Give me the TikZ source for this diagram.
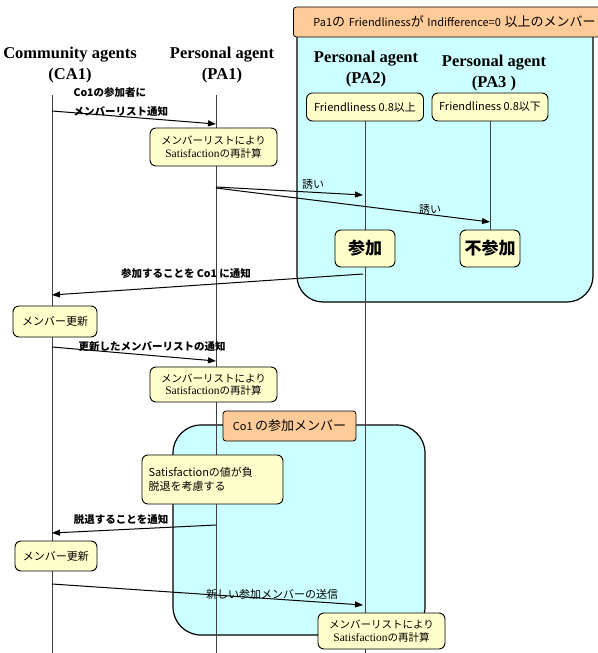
\documentclass[tikz,border=0pt]{standalone}
\usepackage{fontspec}
\setmainfont{Liberation Serif}
\newfontfamily\jpfont{Noto Sans CJK JP}
\usetikzlibrary{arrows.meta,positioning}
\definecolor{groupcyan}{HTML}{CCFFFF}
\definecolor{tagorange}{HTML}{FFCC99}
\definecolor{memoyellow}{HTML}{FFFFCC}
\newcommand{\widejp}[1]{{\fontsize{13}{13}\selectfont #1}}

\begin{document}
\begin{tikzpicture}[x=1pt, y=-1pt, >={Triangle[length=8pt,width=6pt]},
	every node/.style={font=\jpfont\fontsize{10.5}{12.5}\selectfont},
	agent/.style={font=\rmfamily\bfseries\fontsize{16.5}{21}\selectfont, align=center, inner sep=0pt},
	group/.style={draw, line width=1.2pt, fill=groupcyan},
	grouptag/.style={draw, line width=0.8pt, fill=tagorange, rounded corners=3pt, minimum height=30pt, font=\jpfont\fontsize{11}{13}\selectfont},
	memo/.style={draw, line width=0.9pt, fill=memoyellow, rounded corners=6pt, align=center, inner sep=1pt},
	life/.style={black!75, line width=0.8pt},
	msg/.style={->, line width=1pt},
	msglabel/.style={font=\jpfont\bfseries\fontsize{10.5}{19}\selectfont}
]
\useasboundingbox (0,0) rectangle (597,653);

% member groups
\draw[group, rounded corners=26pt] (297,9) rectangle (593,302);
\draw[group, rounded corners=28pt] (173,425) rectangle (425,635);
\node[grouptag, anchor=west, align=left, text width=320pt, inner xsep=20pt] (tagpa) at (293,22) {Pa1\widejp{の} Friendliness\widejp{が} Indifference=0 \widejp{以上のメンバー}};
\node[grouptag, minimum width=133pt] (tagco) at (289.5,426) {Co1 \widejp{の参加メンバー}};

% agents
\node[agent] (ca1) at (70,65) {Community agents\\(CA1)};
\node[agent] (pa1) at (222,65) {Personal agent\\(PA1)};
\node[agent] (pa2) at (366,69) {Personal agent\\(PA2)};
\node[agent] (pa3) at (494,73) {Personal agent\\(PA3 )};
\node[memo, minimum width=117pt, minimum height=28pt, font=\jpfont\fontsize{11}{13}\selectfont] (fr2) at (365,107) {Friendliness 0.8以上};
\node[memo, minimum width=116pt, minimum height=28pt, font=\jpfont\fontsize{11}{13}\selectfont] (fr3) at (490,107) {Friendliness 0.8以下};

% lifelines
\coordinate (ca1top) at (52,95);
\coordinate (ca1bot) at (52,653);
\coordinate (pa1top) at (216,95);
\coordinate (pa1bot) at (216,653);
\coordinate (pa2bot) at (365,653);
\node[memo, minimum width=60pt, minimum height=37pt, font=\jpfont\bfseries\fontsize{17}{19}\selectfont] (nojoin) at (490,248.5) {不参加};
\draw[life] (ca1top) -- (ca1bot);
\draw[life] (pa1top) -- (pa1bot);
\draw[life] (fr2.south) -- (pa2bot);
\draw[life] (fr3.south) -- (nojoin.north);
\node[memo, minimum width=60pt, minimum height=37pt, font=\jpfont\bfseries\fontsize{17}{19}\selectfont] (join) at (365,248.5) {参加};

% memos
\node[memo, minimum width=127pt, minimum height=38pt] (recalc1) at (213.5,147) {メンバーリストにより\\{\rmfamily\fontsize{11.5}{12}\selectfont Satisfaction}の再計算};
\node[memo, minimum width=84pt, minimum height=31pt, font=\jpfont\fontsize{11}{13}\selectfont] (update1) at (55,321.5) {メンバー更新};
\node[memo, minimum width=127pt, minimum height=35pt] (recalc2) at (213.5,384.5) {メンバーリストにより\\{\rmfamily\fontsize{11.5}{12}\selectfont Satisfaction}の再計算};
\node[memo, minimum width=141pt, minimum height=49pt, align=left, text width=128pt, font=\jpfont\fontsize{11}{14}\selectfont] (negative) at (212.5,479.5) {Satisfactionの値が負\\脱退を考慮する};
\node[memo, minimum width=82pt, minimum height=30pt, font=\jpfont\fontsize{11}{13}\selectfont] (update2) at (56,556) {メンバー更新};
\node[memo, minimum width=127pt, minimum height=36pt] (recalc3) at (381.5,631) {メンバーリストにより\\{\rmfamily\fontsize{11.5}{12}\selectfont Satisfaction}の再計算};

% messages
\coordinate (m1a) at (52,111);  \coordinate (m1b) at (216,124);
\coordinate (m2a) at (216,187); \coordinate (m2b) at (363,195);
\coordinate (m3a) at (216,188); \coordinate (m3b) at (490,222);
\coordinate (m4a) at (363,274); \coordinate (m4b) at (52,295);
\coordinate (m5a) at (52,347);  \coordinate (m5b) at (216,361);
\coordinate (m6a) at (216,525); \coordinate (m6b) at (52,533);
\coordinate (m7a) at (52,584);  \coordinate (m7b) at (363,605);
\foreach \a/\b in {m1a/m1b, m2a/m2b, m3a/m3b, m4a/m4b, m5a/m5b, m6a/m6b, m7a/m7b} {
	\draw[msg] (\a) -- (\b);
}
\node[msglabel, align=left, anchor=west] (m1lab) at (70,102) {Co1の参加者に\\メンバーリスト通知};
\node[font=\jpfont\fontsize{11}{13}\selectfont] (m2lab) at (313,184) {誘い};
\node[font=\jpfont\fontsize{11}{13}\selectfont] (m3lab) at (430,209) {誘い};
\node[msglabel] (m4lab) at (186,274) {参加することを Co1 に通知};
\node[msglabel] (m5lab) at (152,347) {更新したメンバーリストの通知};
\node[msglabel] (m6lab) at (121,520) {脱退することを通知};
\node[font=\jpfont\fontsize{11}{13}\selectfont] (m7lab) at (272,594) {新しい参加メンバーの送信};
\end{tikzpicture}
\end{document}
